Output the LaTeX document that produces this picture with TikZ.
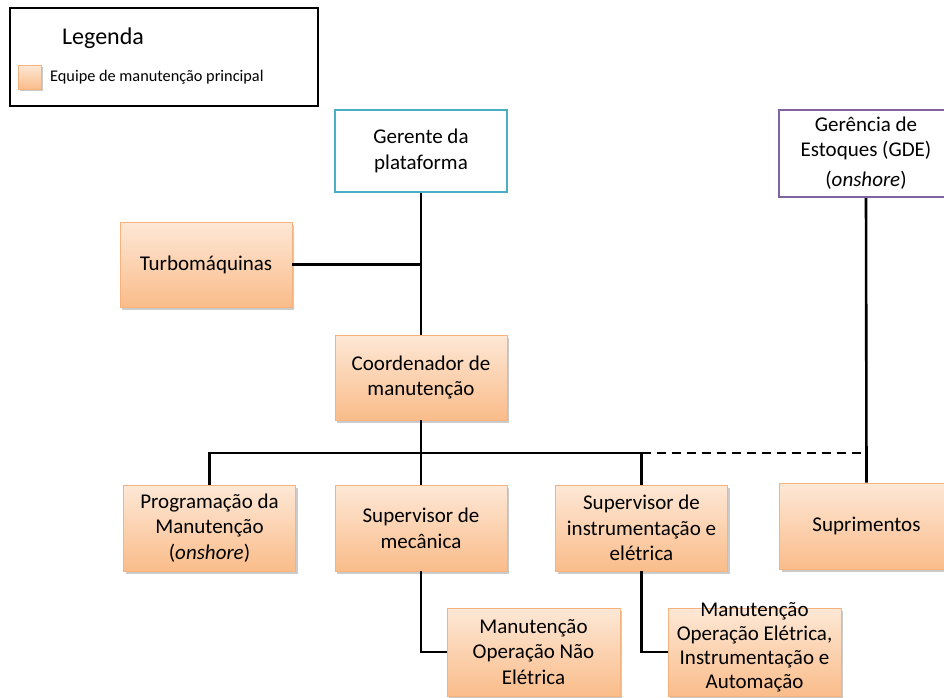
\documentclass[tikz,border=0pt]{standalone}
\usepackage{fontspec}
\setmainfont{Carlito}
\definecolor{boxtop}{RGB}{253,232,214}
\definecolor{boxbot}{RGB}{250,188,138}
\definecolor{boxline}{RGB}{245,178,125}
\definecolor{tealline}{RGB}{75,172,198}
\definecolor{purpline}{RGB}{128,100,162}
\tikzset{
  orangebox/.style={rectangle, draw=boxline, line width=0.8pt, top color=boxtop, bottom color=boxbot,
    minimum width=172pt, minimum height=85pt, align=center, inner sep=2pt,
    font=\fontsize{21}{25.6}\selectfont,
    preaction={fill=black!45, opacity=0.45, transform canvas={xshift=2pt,yshift=-2.5pt}}},
  headbox/.style={rectangle, line width=2pt, fill=white, minimum width=172pt, minimum height=82pt,
    align=center, font=\fontsize{21}{25.6}\selectfont},
  conn/.style={line width=2.6pt, black},
  dconn/.style={conn, dash pattern=on 9pt off 6pt},
  txt/.style={align=center, inner sep=0pt, font=\fontsize{21}{25.6}\selectfont}
}
\begin{document}
\begin{tikzpicture}[x=1pt,y=-1pt]
\clip (0,0) rectangle (944,697);
\fill[white] (0,0) rectangle (944,697);
% legend
\node[draw=black, line width=2pt, minimum width=308pt, minimum height=98pt] (leg) at (164,57) {};
\node[font=\fontsize{24}{28}\selectfont, inner sep=0pt] (legt) at (103,38) {Legenda};
\node[rectangle, draw=boxline, line width=0.6pt, top color=boxtop, bottom color=boxbot,
  minimum width=23pt, minimum height=24pt, inner sep=0pt,
  preaction={fill=black!45, opacity=0.45, transform canvas={xshift=1.5pt,yshift=-1.5pt}}] (legsq) at (30,77) {};
\node[anchor=west, font=\fontsize{16.3}{19}\selectfont, inner sep=0pt] (legtxt) at (50,77) {Equipe de manutenção principal};
% head boxes
\node[headbox, draw=tealline] (ger) at (421,151) {Gerente da\\plataforma};
\node[headbox, draw=purpline, minimum width=174pt, minimum height=87pt] (gde) at (866,153.5) {};
\node[txt] (gdet) at (866,153) {Gerência de\\Estoques (GDE)\\[4pt](\textit{onshore})};
% orange boxes
\node[orangebox] (turbo) at (206,264.5) {Turbomáquinas};
\node[orangebox] (coord) at (421,377.5) {Coordenador de\\manutenção};
\node[orangebox, minimum height=86pt] (prog) at (209.5,528) {Programação da\\Manutenção\\(\textit{onshore})};
\node[orangebox, minimum height=86pt] (mec) at (421,528) {Supervisor de\\mecânica};
\node[orangebox, minimum height=86pt] (instr) at (641.5,528) {Supervisor de\\instrumentação e\\elétrica};
\node[orangebox, minimum width=174pt, minimum height=86pt] (sup) at (866.5,526) {Suprimentos};
\node[orangebox, minimum width=173pt, minimum height=88pt] (nel) at (533.5,652) {Manutenção\\Operação Não\\Elétrica};
\node[orangebox, minimum width=173pt, minimum height=88pt] (el) at (754.5,652) {};
\node[txt, font=\fontsize{21}{24}\selectfont] (elt) at (754.5,647) {Manutenção\\Operação Elétrica,\\Instrumentação e\\Automação};
% connectors
\coordinate (bus) at (421,453);
\draw[conn] (ger.south) -- (coord.north);
\draw[conn] (turbo.east) -- (turbo.east -| ger.south);
\draw[conn] (coord.south) -- (bus);
\draw[conn] (prog.north) |- (bus) -- (instr.north |- bus) -- (instr.north);
\draw[conn] (bus) -- (mec.north);
\draw[dconn] (instr.north |- bus) -- (gde.south |- bus);
\draw[conn] (gde.south) -- (sup.north);
\draw[conn] (mec.south) |- (nel.west);
\draw[conn] (instr.south) |- (el.west);
\end{tikzpicture}
\end{document}
